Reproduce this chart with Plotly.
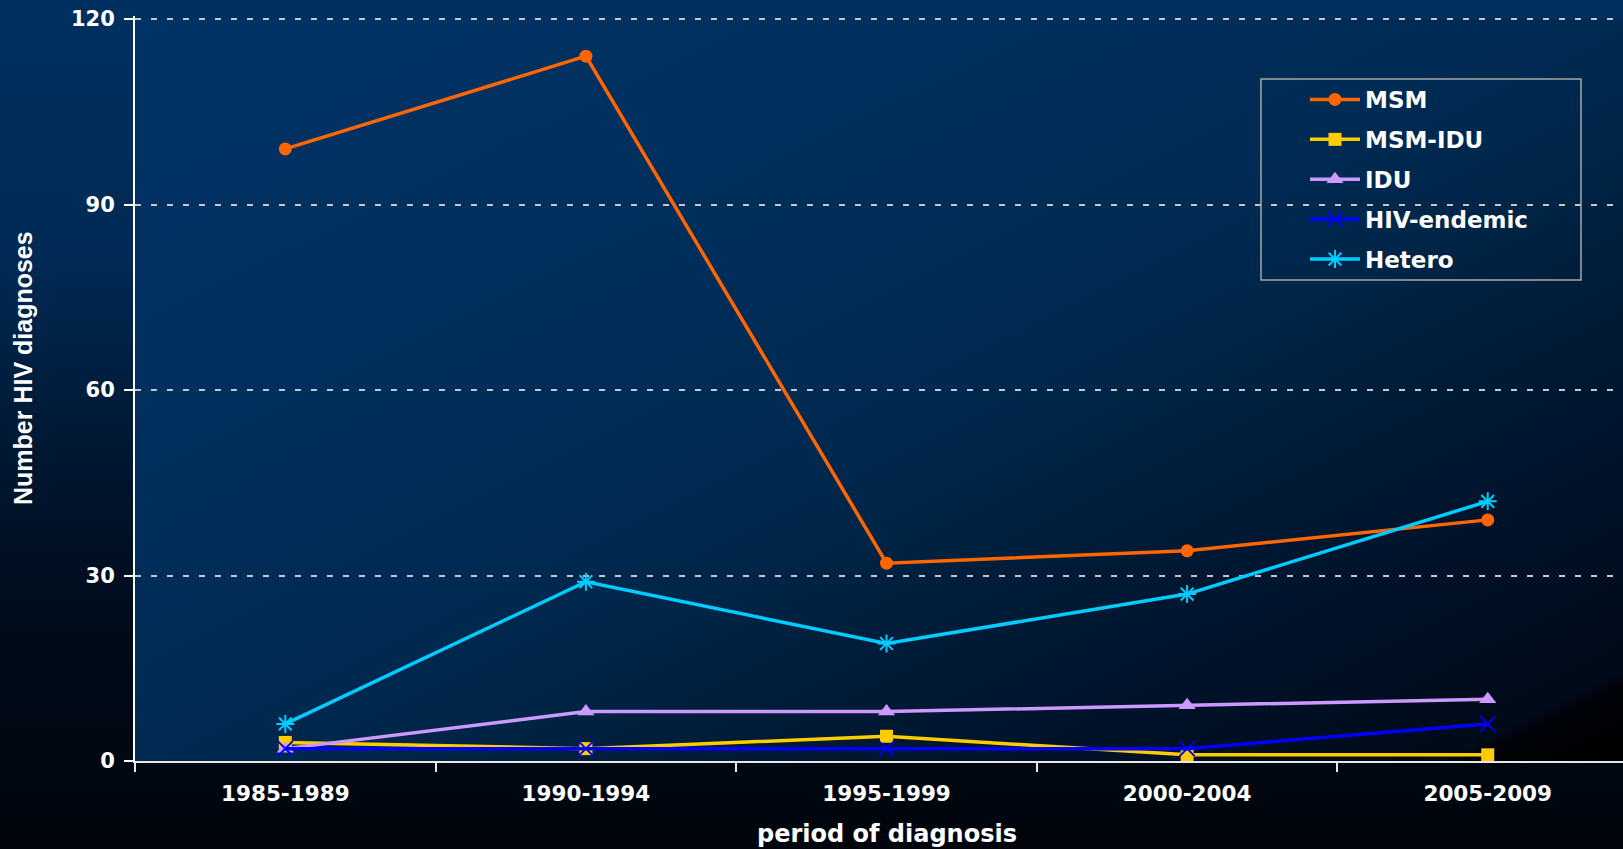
import base64
import plotly.graph_objects as go

# ---- data ----
periods = ["1985-1989", "1990-1994", "1995-1999", "2000-2004", "2005-2009"]
msm = [99, 114, 32, 34, 39]
msm_idu = [3, 2, 4, 1, 1]
idu = [2, 8, 8, 9, 10]
hiv_endemic = [2, 2, 2, 2, 6]
hetero = [6, 29, 19, 27, 42]
y_ticks = [0, 30, 60, 90, 120]

W, H = 1623, 849
ML, MR, MT, MB = 135, 0, 16, 88
PW, PH = W - ML - MR, H - MT - MB
TOP = 19  # pixel row of the y=120 line

svg = f'''<svg xmlns="http://www.w3.org/2000/svg" width="{W}" height="{H}" viewBox="0 0 {W} {H}" preserveAspectRatio="none">
<defs>
<linearGradient id="pg" x1="0" y1="0" x2="0" y2="1">
<stop offset="0" stop-color="#00305f"/>
<stop offset="0.3" stop-color="#002a55"/>
<stop offset="0.55" stop-color="#00162f"/>
<stop offset="0.75" stop-color="#000b19"/>
<stop offset="1" stop-color="#00050c"/>
</linearGradient>
<linearGradient id="ag" x1="0" y1="0" x2="1" y2="1">
<stop offset="0" stop-color="#003366"/>
<stop offset="0.25" stop-color="#00305f"/>
<stop offset="0.5" stop-color="#002a52"/>
<stop offset="0.6" stop-color="#002445"/>
<stop offset="0.68" stop-color="#001c38"/>
<stop offset="0.8" stop-color="#00122a"/>
<stop offset="0.94" stop-color="#000a18"/>
<stop offset="0.948" stop-color="#000308"/>
<stop offset="1" stop-color="#000000"/>
</linearGradient>
</defs>
<rect x="0" y="0" width="{W}" height="{H}" fill="url(#pg)"/>
<rect x="{ML}" y="{TOP}" width="{PW}" height="{H - MB - TOP}" fill="url(#ag)"/>
</svg>'''
src = "data:image/svg+xml;base64," + base64.b64encode(svg.encode()).decode()

fig = go.Figure()

def add(name, vals, color, symbol, size, mline=None):
    marker = dict(symbol=symbol, size=size, color=color)
    if mline:
        marker["line"] = dict(color=color, width=mline)
    fig.add_trace(go.Scatter(
        x=periods, y=vals, name=name, mode="lines+markers",
        line=dict(color=color, width=3.5), marker=marker,
        legendgroup=name, cliponaxis=False,
    ))

add("MSM", msm, "#ff6600", "circle", 13)
add("MSM-IDU", msm_idu, "#ffcc00", "square", 13)
add("IDU", idu, "#cc99ff", "triangle-up", 15)
add("HIV-endemic", hiv_endemic, "#0000ff", "x-thin-open", 15, 2)
add("Hetero", hetero, "#00ccff", "asterisk-open", 15, 2)

def py(pix):
    return 1 - (pix - MT) / PH

fig.update_layout(
    width=W, height=H,
    margin=dict(l=ML, r=MR, t=MT, b=MB, pad=0),
    paper_bgcolor="#00050c",
    plot_bgcolor="rgba(0,0,0,0)",
    font=dict(family="DejaVu Sans", color="white"),
    showlegend=True,
    images=[dict(source=src, xref="paper", yref="paper",
                 x=-ML / PW, y=1 + MT / PH, sizex=W / PW, sizey=H / PH,
                 xanchor="left", yanchor="top", sizing="stretch", layer="below")],
    legend=dict(
        x=(1305 - ML) / PW, y=py(78), xanchor="left", yanchor="top",
        bgcolor="rgba(0,0,0,0)", borderwidth=0, itemwidth=50,
        font=dict(family="DejaVu Sans", size=23, color="white", weight="bold"),
        tracegroupgap=7,
    ),
    shapes=[dict(type="rect", xref="paper", yref="paper",
                 x0=(1261 - ML) / PW, x1=(1581 - ML) / PW,
                 y0=py(280), y1=py(79),
                 line=dict(color="#a8a8a8", width=1.5), fillcolor="rgba(0,0,0,0)")],
    annotations=[
        dict(text="period of diagnosis", x=2, xref="x", y=py(834), yref="paper",
             xanchor="center", yanchor="middle", showarrow=False,
             font=dict(family="DejaVu Sans", size=24, color="white", weight="bold")),
        dict(text="Number HIV diagnoses", x=(23 - ML) / PW, xref="paper",
             y=py(368), yref="paper", textangle=-90,
             xanchor="center", yanchor="middle", showarrow=False,
             font=dict(family="Liberation Sans", size=25, color="white", weight="bold")),
    ],
)

fig.update_xaxes(
    type="category", range=[-0.5, 4.45],
    showline=True, linecolor="#e8e8e8", linewidth=2,
    ticks="outside", tickson="boundaries", ticklen=9, tickwidth=2, tickcolor="#e8e8e8",
    showgrid=False, ticklabelstandoff=12,
    tickfont=dict(family="DejaVu Sans", size=21.5, color="white", weight="bold"),
)
fig.update_yaxes(
    range=[0, 120.5], tickvals=y_ticks, ticktext=[str(v) for v in y_ticks],
    showline=True, linecolor="white", linewidth=2,
    ticks="outside", ticklen=9, tickwidth=2, tickcolor="white",
    showgrid=True, gridcolor="#c8c8c8", gridwidth=2, griddash="6px,10px",
    zeroline=False, ticklabelstandoff=5,
    tickfont=dict(family="DejaVu Sans", size=21, color="white", weight="bold"),
)

fig.write_html("out.html", config={"displayModeBar": False},
               post_script="document.body.style.margin='0';document.body.style.overflow='hidden';")
